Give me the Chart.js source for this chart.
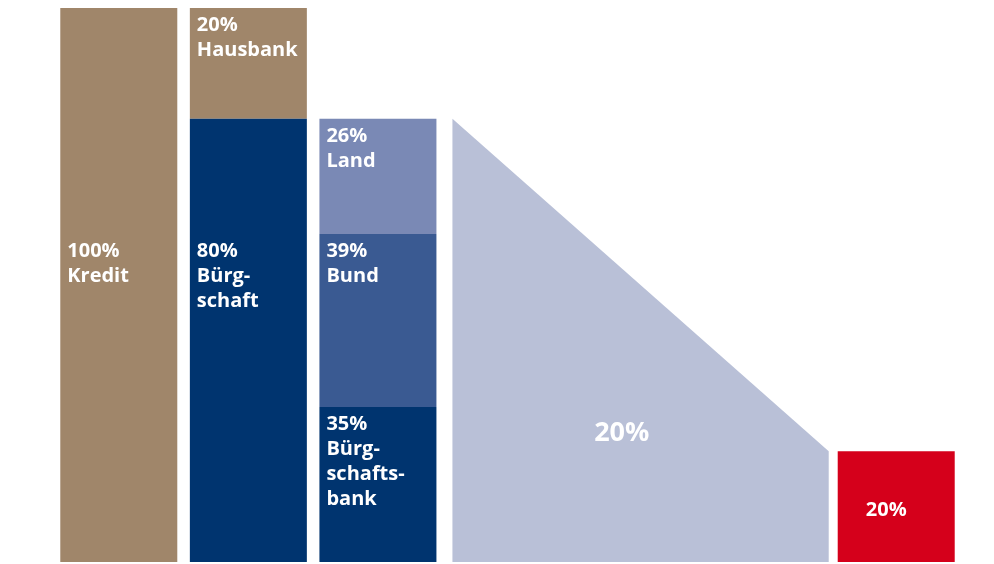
<!DOCTYPE html>
<html lang="de">
<head>
<meta charset="utf-8">
<title>Bürgschaft – Risikoverteilung</title>
<script src="https://cdn.jsdelivr.net/npm/chart.js@4.4.1/dist/chart.umd.min.js"></script>
<style>
  html, body { margin: 0; padding: 0; background: #fff; overflow: hidden; }
  #wrap { position: relative; width: 994px; height: 564px; }
</style>
</head>
<body>
<div id="wrap"><canvas id="risikoChart"></canvas></div>
<script>
// Daten: Anteile in Prozent
const spalten = ['Kredit', 'Bürgschaft', 'Aufteilung', '', '', '', 'Rest'];
const kredit = [100];
const hausbank = [20];
const buergschaft = [80];
const traegerNamen = ['Land', 'Bund', 'Bürgschaftsbank'];
const traegerAnteile = [26, 39, 35];   // Anteile an der Bürgschaft
const restRisiko = [20];
const verlaufLabel = '20%';

// Farben
const FARBEN = {
    kredit: '#A0866A',
    navy: '#00346F',
    land: '#7A89B5',
    bund: '#3A5A92',
    verlauf: '#B9C0D7',
    rot: '#D5001B',
};

const FONT = '"Open Sans", "Noto Sans", sans-serif';

// Hilfsfunktion: Wert nur an einer Spalte setzen
function anSpalte(index, wert) {
    return spalten.map((_, i) => (i === index ? wert : null));
}

// Bürgschaftsträger als Zeilentexte
const traegerZeilen = [
    ['Land'],
    ['Bund'],
    ['Bürg-', 'schafts-', 'bank'],
];

const datasets = [
    { label: 'Kredit', data: anSpalte(0, kredit[0]), backgroundColor: FARBEN.kredit,
      zeilen: [kredit[0] + '%', 'Kredit'], mittelZeile: true },
    { label: 'Bürgschaft', data: anSpalte(1, buergschaft[0]), backgroundColor: FARBEN.navy,
      zeilen: [buergschaft[0] + '%', 'Bürg-', 'schaft'], mittelZeile: true },
    { label: 'Hausbank', data: anSpalte(1, hausbank[0]), backgroundColor: FARBEN.kredit,
      zeilen: [hausbank[0] + '%', 'Hausbank'] },
];

// Die Träger teilen sich die 80 % Bürgschaft -> eigene Achse (100 % = Bürgschaftshöhe)
const traegerFarben = [FARBEN.navy, FARBEN.bund, FARBEN.land];
[2, 1, 0].forEach((t, k) => {
    datasets.push({
        label: traegerNamen[t],
        data: anSpalte(2, traegerAnteile[t]),
        backgroundColor: traegerFarben[k],
        yAxisID: 'yAnteil',
        zeilen: [traegerAnteile[t] + '%'].concat(traegerZeilen[t]),
        istBund: traegerNamen[t] === 'Bund',
    });
});

datasets.push({ label: 'Rest', data: anSpalte(6, restRisiko[0]), backgroundColor: FARBEN.rot,
    zentriert: [restRisiko[0] + '%'] });

// Abfallende Fläche zwischen Trägern und Restrisiko
const verlaufPlugin = {
    id: 'verlauf',
    beforeDatasetsDraw(chart) {
        const { ctx, scales } = chart;
        const traeger = chart.getDatasetMeta(3).data[2];
        const rest = chart.getDatasetMeta(datasets.length - 1).data[6];
        const links = traeger.x + traeger.width / 2 + 16;
        const rechts = rest.x - rest.width / 2 - 9;
        const basis = scales.y.getPixelForValue(0);
        const obenL = scales.y.getPixelForValue(buergschaft[0]);
        const obenR = scales.y.getPixelForValue(restRisiko[0]);

        ctx.save();
        ctx.fillStyle = FARBEN.verlauf;
        ctx.beginPath();
        ctx.moveTo(links, basis);
        ctx.lineTo(links, obenL);
        ctx.lineTo(rechts, obenR);
        ctx.lineTo(rechts, basis);
        ctx.closePath();
        ctx.fill();

        ctx.fillStyle = '#fff';
        ctx.font = 'bold 27px ' + FONT;
        ctx.textAlign = 'center';
        ctx.textBaseline = 'middle';
        ctx.fillText(verlaufLabel, links + (rechts - links) * 0.45, basis - (basis - obenL) * 0.29);
        ctx.restore();
    },
};

// Weiße Beschriftungen in den Balken
const textPlugin = {
    id: 'balkenText',
    afterDatasetsDraw(chart) {
        const { ctx } = chart;
        let bundOben = null;
        chart.data.datasets.forEach((ds, i) => {
            if (ds.istBund) {
                const el = chart.getDatasetMeta(i).data.find((e, j) => ds.data[j] !== null);
                bundOben = el.y;
            }
        });

        ctx.save();
        ctx.fillStyle = '#fff';
        chart.data.datasets.forEach((ds, i) => {
            const meta = chart.getDatasetMeta(i);
            ds.data.forEach((wert, j) => {
                if (wert === null) return;
                const el = meta.data[j];
                if (ds.zentriert) {
                    ctx.font = 'bold 20px ' + FONT;
                    ctx.textAlign = 'center';
                    ctx.textBaseline = 'middle';
                    ctx.fillText(ds.zentriert[0], el.x - 10, (el.y + el.base) / 2 + 4);
                    return;
                }
                const x = el.x - el.width / 2 + 7;
                let y = (ds.mittelZeile && bundOben !== null ? bundOben : el.y) + 7;
                ctx.font = 'bold 20px ' + FONT;
                ctx.textAlign = 'left';
                ctx.textBaseline = 'top';
                ds.zeilen.forEach((z, k) => ctx.fillText(z, x, y + k * 25));
            });
        });
        ctx.restore();
    },
};

new Chart(document.getElementById('risikoChart'), {
    type: 'bar',
    data: { labels: spalten, datasets },
    options: {
        responsive: true,
        maintainAspectRatio: false,
        animation: false,
        layout: { padding: { left: 54, right: 33, top: 8, bottom: 2 } },
        categoryPercentage: 1,
        barPercentage: 0.903,
        scales: {
            x: { stacked: true, display: false },
            y: { stacked: true, display: false, min: 0, max: 100 },
            yAnteil: { stacked: true, display: false, min: 0, max: 100 * 100 / buergschaft[0] },
        },
        plugins: {
            legend: { display: false },
            tooltip: { enabled: false },
        },
    },
    plugins: [verlaufPlugin, textPlugin],
});
</script>
</body>
</html>
